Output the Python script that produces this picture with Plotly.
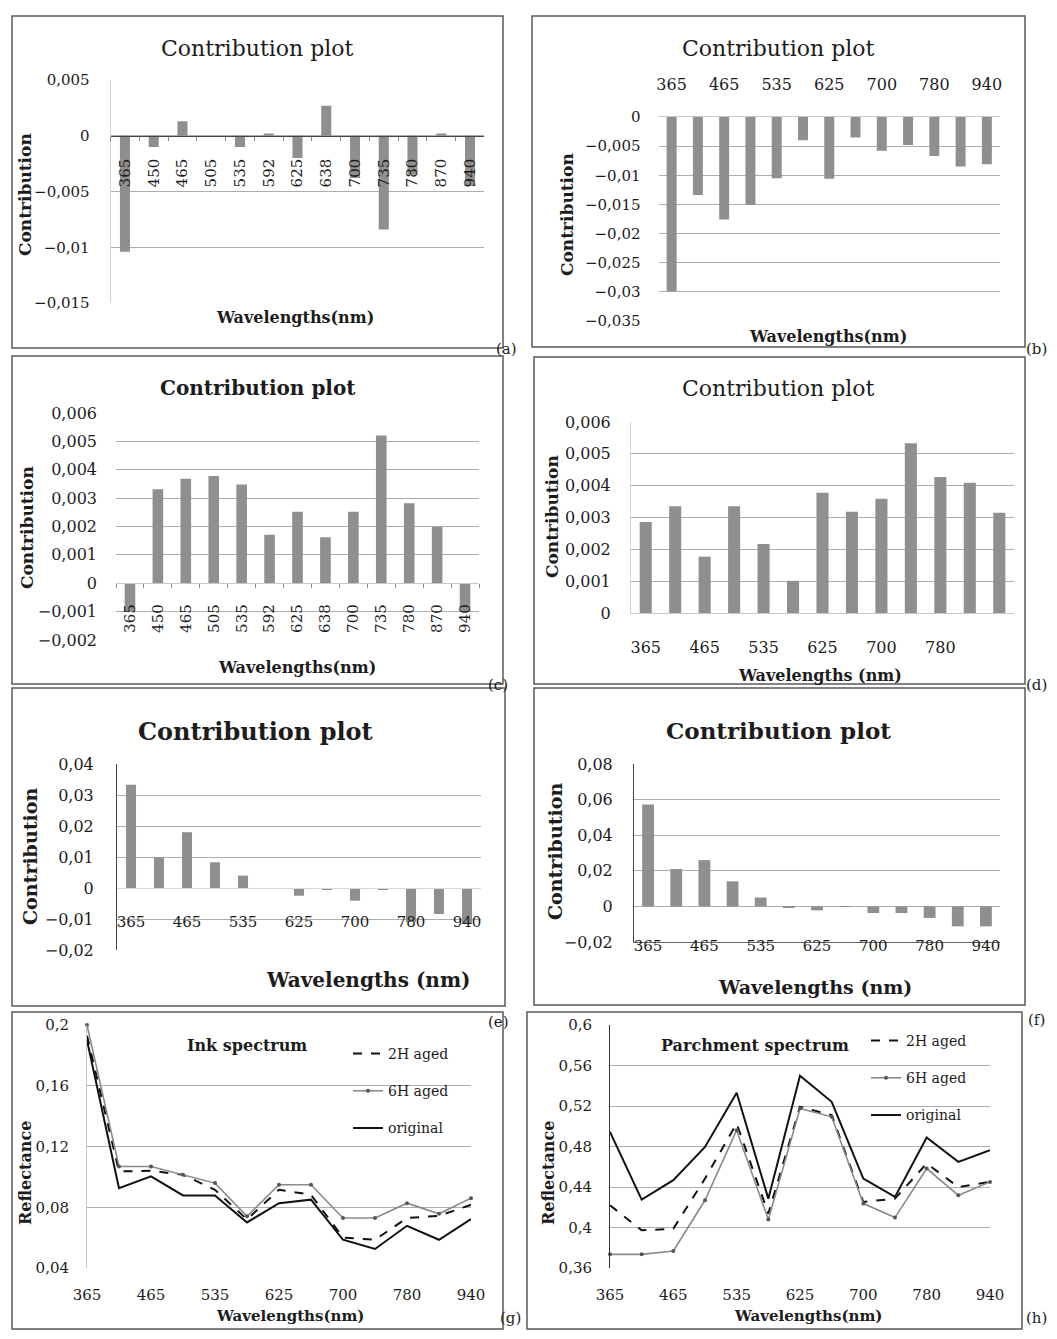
import plotly.graph_objects as go

W, H = 1057, 1339
PAD = 8  # browser body margin around the figure
FW, FH = W - 2 * PAD, H - 2 * PAD
SERIF = "DejaVu Serif"
INK = "#1c1c1c"
BAR_COLOR = "#8f8f8f"
GRID_COLOR = "#adadad"

# ---------------- data ----------------
wavelengths = ["365", "450", "465", "505", "535", "592", "625", "638",
               "700", "735", "780", "870", "940"]

contrib_a = [-0.0104, -0.0010, 0.0013, 0.0000, -0.0010, 0.0002, -0.0020,
             0.0027, -0.0038, -0.0084, -0.0035, 0.0002, -0.0045]
contrib_b = [-0.0299, -0.0134, -0.0176, -0.0151, -0.0105, -0.0040, -0.0106,
             -0.0035, -0.0058, -0.0048, -0.0067, -0.0085, -0.0081]
contrib_c = [-0.0010, 0.00331, 0.00368, 0.00378, 0.00348, 0.00171, 0.00252,
             0.00162, 0.00252, 0.00521, 0.00282, 0.00199, -0.0010]
contrib_d = [0.00286, 0.00335, 0.00177, 0.00335, 0.00217, 0.00101, 0.00378,
             0.00318, 0.00359, 0.00533, 0.00427, 0.00409, 0.00315]
contrib_e = [0.0333, 0.0099, 0.0180, 0.0083, 0.0040, -0.0003, -0.0025,
             -0.0005, -0.0041, -0.0005, -0.0110, -0.0084, -0.0116]
contrib_f = [0.0573, 0.0210, 0.0260, 0.0141, 0.0050, -0.0005, -0.0022,
             -0.0003, -0.0037, -0.0037, -0.0065, -0.0112, -0.0112]

ink_2h_aged = [0.193, 0.1036, 0.1040, 0.1014, 0.0915, 0.0720, 0.0915,
               0.0882, 0.0600, 0.0586, 0.0729, 0.0744, 0.0816]
ink_6h_aged = [0.200, 0.1068, 0.1068, 0.1014, 0.0959, 0.0740, 0.0948,
               0.0948, 0.0729, 0.0729, 0.0827, 0.0757, 0.0860]
ink_original = [0.190, 0.0926, 0.1003, 0.0878, 0.0878, 0.0700, 0.0827,
                0.0850, 0.0586, 0.0525, 0.0678, 0.0586, 0.0722]

parch_2h_aged = [0.4219, 0.3972, 0.3988, 0.4483, 0.5027, 0.4137, 0.5192,
                 0.5110, 0.4252, 0.4285, 0.4632, 0.4400, 0.4450]
parch_6h_aged = [0.3735, 0.3735, 0.3768, 0.4269, 0.4961, 0.4078, 0.5176,
                 0.5093, 0.4236, 0.4098, 0.4582, 0.4318, 0.4450]
parch_original = [0.4945, 0.4275, 0.4467, 0.4796, 0.5331, 0.4285, 0.5499,
                  0.5242, 0.4483, 0.4302, 0.4889, 0.4648, 0.4763]

series_names = ["2H aged", "6H aged", "original"]


def fx(x):
    return (x - PAD) / FW


def fy(y):
    return 1 - (y - PAD) / FH


fig = go.Figure()
layout = {}
annotations = []
shapes = []


def text(x, y, s, size, bold=False, angle=0, xanchor="center"):
    annotations.append(dict(
        x=fx(x), y=fy(y), xref="paper", yref="paper",
        text=f"<b>{s}</b>" if bold else s, showarrow=False,
        font=dict(family=SERIF, size=size, color=INK),
        textangle=angle, xanchor=xanchor, yanchor="middle"))


def ax_names(n):
    s = "" if n == 1 else str(n)
    return "x" + s, "y" + s, "xaxis" + s, "yaxis" + s


# ---------------- bar panels ----------------
bar_panels = [
    dict(n=1, values=contrib_a, xd=(110.6, 484.4), yd=(80, 303), yr=(-0.015, 0.005),
         dtick=0.005, width=0.35, xpos="zero", ticks=wavelengths, angle=-90,
         xstand=16, ystand=17, xfont=15, yfont=15, yline="#d0d0d0", xline="#444"),
    dict(n=2, values=contrib_b, xd=(658.5, 1000), yd=(117, 321), yr=(-0.035, 0),
         dtick=0.005, width=0.38, xpos="top", ticks=wavelengths[::2], angle=0,
         xstand=20, ystand=17, xfont=16, yfont=15, yline=None, xline="#c8c8c8"),
    dict(n=3, values=contrib_c, xd=(116, 479), yd=(413, 640), yr=(-0.002, 0.006),
         dtick=0.001, width=0.38, xpos="zero", ticks=wavelengths, angle=-90,
         xstand=14, ystand=18, xfont=15, yfont=16, yline=None, xline="#c8c8c8"),
    dict(n=4, values=contrib_d, xd=(631, 1014), yd=(422, 613), yr=(0, 0.006),
         dtick=0.001, width=0.41, xpos="bottom", ticks=wavelengths[0:12:2], angle=0,
         xstand=20, ystand=16, xfont=16, yfont=16, yline="#d0d0d0", xline="#c8c8c8"),
    dict(n=5, values=contrib_e, xd=(117, 481), yd=(764, 950), yr=(-0.02, 0.04),
         dtick=0.01, width=0.36, xpos="zero", ticks=wavelengths[::2], angle=0,
         xstand=20, ystand=19, xfont=15, yfont=16, yline="#444", xline="#d8d8d8"),
    dict(n=6, values=contrib_f, xd=(634, 1000), yd=(764, 942), yr=(-0.02, 0.08),
         dtick=0.02, width=0.42, xpos="bottom", ticks=wavelengths[::2], angle=0,
         xstand=-10, ystand=17, xfont=15, yfont=16, yline="#444", xline="#666"),
]

for p in bar_panels:
    xn, yn, xk, yk = ax_names(p["n"])
    fig.add_trace(go.Bar(x=wavelengths, y=p["values"], width=p["width"],
                         marker=dict(color=BAR_COLOR, line=dict(width=0)),
                         xaxis=xn, yaxis=yn, showlegend=False,
                         hoverinfo="x+y"))
    ymin, ymax = p["yr"]
    ytop, ybot = p["yd"]
    xa = dict(type="category", domain=[fx(p["xd"][0]), fx(p["xd"][1])],
              range=[-0.5, len(wavelengths) - 0.5],
              tickmode="array", tickvals=p["ticks"], ticktext=p["ticks"],
              tickangle=p["angle"],
              tickfont=dict(family=SERIF, size=p["xfont"], color=INK),
              showgrid=False, zeroline=False, showline=True,
              linecolor=p["xline"], linewidth=1,
              ticklabelstandoff=p["xstand"], fixedrange=True)
    if p["xpos"] == "zero":
        zero_px = ytop + (ymax - 0) / (ymax - ymin) * (ybot - ytop)
        xa.update(anchor="free", position=fy(zero_px))
        if p["angle"] == -90:
            xa.update(ticks="outside", tickson="boundaries", ticklen=4,
                      tickcolor="#888")
    elif p["xpos"] == "top":
        xa.update(anchor=yn, side="top")
    else:
        xa.update(anchor=yn)
    ya = dict(domain=[fy(ybot), fy(ytop)], range=[ymin, ymax],
              dtick=p["dtick"], tick0=0, showgrid=True, gridcolor=GRID_COLOR,
              gridwidth=1, zeroline=False, anchor=xn, ticks="",
              tickfont=dict(family=SERIF, size=p["yfont"], color=INK),
              ticklabelstandoff=p["ystand"], fixedrange=True,
              showline=p["yline"] is not None,
              linecolor=p["yline"] or "#fff", linewidth=1)
    layout[xk] = xa
    layout[yk] = ya

# ---------------- line panels ----------------
line_panels = [
    dict(n=7, series=[ink_2h_aged, ink_6h_aged, ink_original], xd=(87, 471),
         yd=(1025, 1268), yr=(0.04, 0.2), legend="legend", yline="#c8c8c8"),
    dict(n=8, series=[parch_2h_aged, parch_6h_aged, parch_original], xd=(610, 990),
         yd=(1025, 1268), yr=(0.36, 0.6), legend="legend2", yline="#333"),
]
styles = [
    dict(mode="lines", line=dict(color="#111", width=2, dash="dash")),
    dict(mode="lines+markers", line=dict(color="#8a8a8a", width=1.6),
         marker=dict(size=4, color="#555")),
    dict(mode="lines", line=dict(color="#111", width=2)),
]

for p in line_panels:
    xn, yn, xk, yk = ax_names(p["n"])
    for i, (vals, name) in enumerate(zip(p["series"], series_names)):
        st = styles[i]
        fig.add_trace(go.Scatter(x=wavelengths, y=vals, name=name,
                                 xaxis=xn, yaxis=yn, legend=p["legend"],
                                 legendgroup=f"{p['legend']}_{i}",
                                 cliponaxis=False, **st))
    ytop, ybot = p["yd"]
    layout[xk] = dict(type="category", domain=[fx(p["xd"][0]), fx(p["xd"][1])],
                      range=[0, len(wavelengths) - 1], anchor=yn,
                      tickmode="array", tickvals=wavelengths[::2],
                      ticktext=wavelengths[::2],
                      tickfont=dict(family=SERIF, size=15, color=INK),
                      showgrid=False, zeroline=False, showline=False,
                      ticklabelstandoff=16, fixedrange=True)
    layout[yk] = dict(domain=[fy(ybot), fy(ytop)], range=list(p["yr"]),
                      dtick=0.04, tick0=0, showgrid=True, gridcolor=GRID_COLOR,
                      gridwidth=1, zeroline=False, anchor=xn, ticks="",
                      tickfont=dict(family=SERIF, size=15, color=INK),
                      ticklabelstandoff=14, fixedrange=True,
                      showline=True, linecolor=p["yline"], linewidth=1)

# ---------------- texts ----------------
text(257, 48, "Contribution plot", 22)
text(778, 48, "Contribution plot", 22)
text(258, 388, "Contribution plot", 20, bold=True)
text(778, 388, "Contribution plot", 22)
text(255, 732, "Contribution plot", 24, bold=True)
text(778, 730, "Contribution plot", 23, bold=True)
text(247, 1045, "Ink spectrum", 16, bold=True)
text(755, 1045, "Parchment spectrum", 16, bold=True)

text(25, 195, "Contribution", 17, bold=True, angle=-90)
text(567, 215, "Contribution", 17, bold=True, angle=-90)
text(27, 528, "Contribution", 17, bold=True, angle=-90)
text(552, 517, "Contribution", 17, bold=True, angle=-90)
text(30, 857, "Contribution", 19, bold=True, angle=-90)
text(555, 852, "Contribution", 19, bold=True, angle=-90)
text(25, 1173, "Reflectance", 16, bold=True, angle=-90)
text(548, 1173, "Reflectance", 16, bold=True, angle=-90)

text(295, 318, "Wavelengths(nm)", 16, bold=True)
text(828, 337, "Wavelengths(nm)", 16, bold=True)
text(297, 667, "Wavelengths(nm)", 16, bold=True)
text(820, 675, "Wavelengths (nm)", 16, bold=True)
text(368, 980, "Wavelengths (nm)", 20, bold=True)
text(815, 987, "Wavelengths (nm)", 19, bold=True)
text(290, 1316, "Wavelengths(nm)", 15, bold=True)
text(808, 1316, "Wavelengths(nm)", 15, bold=True)

for lab, x, y in [("(a)", 506, 349), ("(b)", 1036, 349), ("(c)", 498, 685),
                  ("(d)", 1036, 685), ("(e)", 498, 1022), ("(f)", 1036, 1020),
                  ("(g)", 510, 1318), ("(h)", 1036, 1318)]:
    text(x, y, lab, 15)

# ---------------- panel frames ----------------
for x0, x1, y0, y1 in [(12, 503, 16, 348), (532, 1025, 16, 347),
                       (12, 503, 356, 684), (534, 1025, 357, 684),
                       (12, 505, 688, 1006), (534, 1025, 688, 1005),
                       (12, 503, 1012, 1329), (527, 1022, 1012, 1329)]:
    shapes.append(dict(type="rect", xref="paper", yref="paper",
                       x0=fx(x0), x1=fx(x1), y0=fy(y1), y1=fy(y0),
                       line=dict(color="#5a5a5a", width=1.5),
                       fillcolor="rgba(0,0,0,0)", layer="above"))

legend_common = dict(xanchor="left", yanchor="top", bgcolor="rgba(0,0,0,0)",
                     borderwidth=0, font=dict(family=SERIF, size=14, color=INK),
                     tracegroupgap=16, itemwidth=30)

fig.update_layout(
    width=FW, height=FH, margin=dict(l=0, r=0, t=0, b=0),
    template="none", paper_bgcolor="white", plot_bgcolor="white",
    separators=",.", font=dict(family=SERIF, color=INK),
    showlegend=True,
    legend=dict(x=fx(348), y=fy(1038), **legend_common),
    legend2=dict(x=fx(866), y=fy(1025), **legend_common),
    annotations=annotations, shapes=shapes,
    **layout,
)

fig.write_html("out.html")
